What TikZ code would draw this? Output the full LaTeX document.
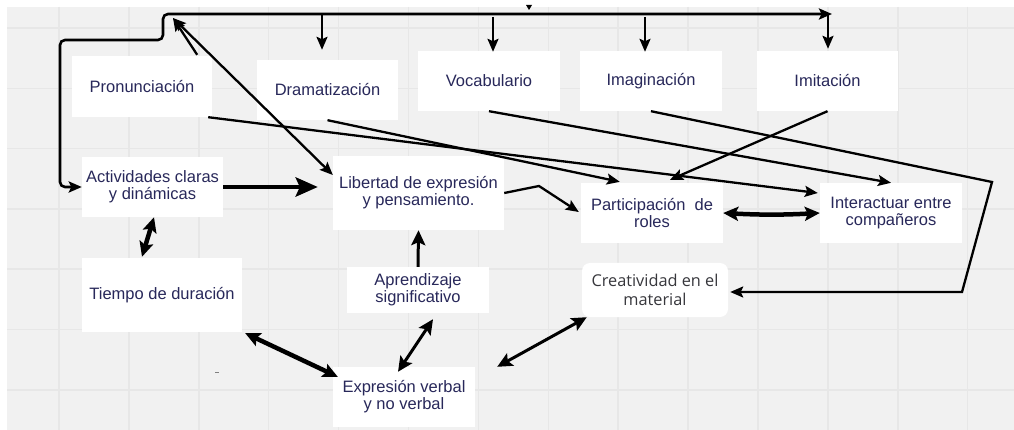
\documentclass[tikz,border=0pt]{standalone}
\usepackage{fontspec}
\setmainfont{Liberation Sans}
\newfontfamily\creafont{Open Sans}
\usetikzlibrary{arrows.meta,calc}
\definecolor{txt}{RGB}{40,40,90}
\definecolor{creatxt}{RGB}{55,55,60}
\definecolor{bg}{RGB}{241,241,241}
\definecolor{gridc}{RGB}{231,231,231}
\begin{document}
\begin{tikzpicture}[x=1pt,y=-1pt,
  box/.style={fill=white, inner sep=0pt, text=txt, align=center,
    font=\fontsize{16.5}{17}\selectfont},
  ln/.style={line width=2.3pt, draw=black},
  tipS/.tip={Stealth[length=13pt,width=11pt,inset=2.5pt]},
  tipM/.tip={Stealth[length=15pt,width=14pt,inset=3pt]},
  tipL/.tip={Stealth[length=22pt,width=19pt,inset=4pt]},
  arr/.style={ln, -tipS},
  darr/.style={ln, tipS-tipS},
  medarr/.style={line width=3pt, tipM-tipM},
  bigarr/.style={line width=4.5pt, tipM-tipM},
]
% background and grid
\useasboundingbox (0,0) rectangle (1014,430);
\fill[white] (0,0) rectangle (1014,430);
\fill[bg] (7,7) rectangle (1014,430);
\foreach \i in {0,...,13} {\draw[gridc, line width=1.5pt] (59+69.9*\i,7) -- (59+69.9*\i,430);}
\foreach \j in {0,...,6} {\draw[gridc, line width=1.5pt] (7,28+60.3*\j) -- (1014,28+60.3*\j);}

% nodes
\node[box, minimum width=140pt, minimum height=61pt] (pron) at (142,86.5) {Pronunciación};
\node[box, minimum width=141pt, minimum height=60pt] (drama) at (327.5,90) {Dramatización};
\node[box, minimum width=142pt, minimum height=60pt] (voc) at (489,81) {Vocabulario};
\node[box, minimum width=142pt, minimum height=60pt] (imag) at (651,81) {Imaginación};
\node[box, minimum width=141pt, minimum height=60pt] (imit) at (827.5,81) {Imitación};
\node[box, minimum width=141pt, minimum height=60pt] (activ) at (152.5,187) {Actividades claras\\y dinámicas};
\node[box, minimum width=171pt, minimum height=74pt] (libert) at (418.5,193) {Libertad de expresión\\y pensamiento.};
\node[box, minimum width=142pt, minimum height=60pt] (partic) at (652,213) {Participación\ \ de\\roles};
\node[box, minimum width=142pt, minimum height=60pt] (inter) at (891,213) {Interactuar entre\\compañeros};
\node[box, minimum width=160pt, minimum height=74pt] (tiempo) at (162,295) {Tiempo de duración};
\node[box, minimum width=142pt, minimum height=46pt] (aprend) at (418,290) {Aprendizaje\\significativo};
\node[box, rounded corners=8pt, text=creatxt, font=\creafont\fontsize{16.3}{19}\selectfont,
      minimum width=146pt, minimum height=54pt] (creat) at (655,290) {Creatividad en el\\material};
\node[box, minimum width=142pt, minimum height=60pt] (expr) at (404,397) {Expresión verbal\\y no verbal};

% coordinates
\coordinate (top) at (163,14);
\coordinate (topR) at (832,14);
\coordinate (hub) at (173,18);
\coordinate (r1) at (992,182);
\coordinate (r2) at (962,292);
\coordinate (lb) at (539,186);

% top loop
\draw[line width=2.6pt, rounded corners=5pt, tipS-tipS] (activ.west) -| (60,40) -| (top) -- (topR);
\fill (526,5) -- (532,5) -- (529,10) -- cycle;
% down arrows
\draw[arr] ($(drama.north |- top)+(-5.5,0)$) -- ($(drama.north)+(-5.5,-10)$);
\draw[arr] ($(voc.north |- top)+(4,3)$) -- ($(voc.north)+(4,1)$);
\draw[arr] ($(imag.north |- top)+(-6,3)$) -- ($(imag.north)+(-6,1)$);
\draw[arr] ($(imit.north |- top)+(0.5,0)$) -- ($(imit.north)+(0.5,-2)$);

% to hub
\draw[arr] ($(pron.north east)+(-15,-1)$) -- (hub);
\draw[darr] (hub) -- ($(libert.west)+(0,-18)$);

% long arrows from top row
\draw[arr] ($(pron.south east)+(-4,0)$) -- ($(inter.west)+(-2,-20)$);
\draw[arr] (drama.south) -- ($(partic.north west)+(39,-1)$);
\draw[arr] (voc.south) -- (inter.north);
\draw[arr] (imit.south) -- ($(partic.north)+(18,-3)$);
\draw[arr] (imag.south) -- (r1) -- (r2) -- ($(creat.east)+(2,2)$);

% middle connections
\draw[line width=4.5pt, -tipL] (activ.east) -- ($(libert.west)+(-15,-6)$);
\draw[bigarr] ($(activ.south)+(1.5,0)$) -- ($(tiempo.north)+(-20,-1)$);
\draw[arr] (libert.east) -- (lb) -- ($(partic.west)+(-2,-1)$);
\draw[line width=3pt, -tipM] (aprend.north) -- (libert.south);
\draw[bigarr] (partic.east) to[bend right=3] (inter.west);

% bottom connections
\draw[bigarr] ($(tiempo.south east)+(3,1)$) -- ($(expr.north west)+(5,10)$);
\draw[medarr] ($(aprend.south)+(15,6)$) -- ($(expr.north)+(-6,5)$);
\draw[medarr] ($(creat.south west)+(5,0)$) -- ($(expr.north east)+(22,0)$);
\draw[gray, line width=1pt] (215,372) -- (219,372);
\end{tikzpicture}
\end{document}
